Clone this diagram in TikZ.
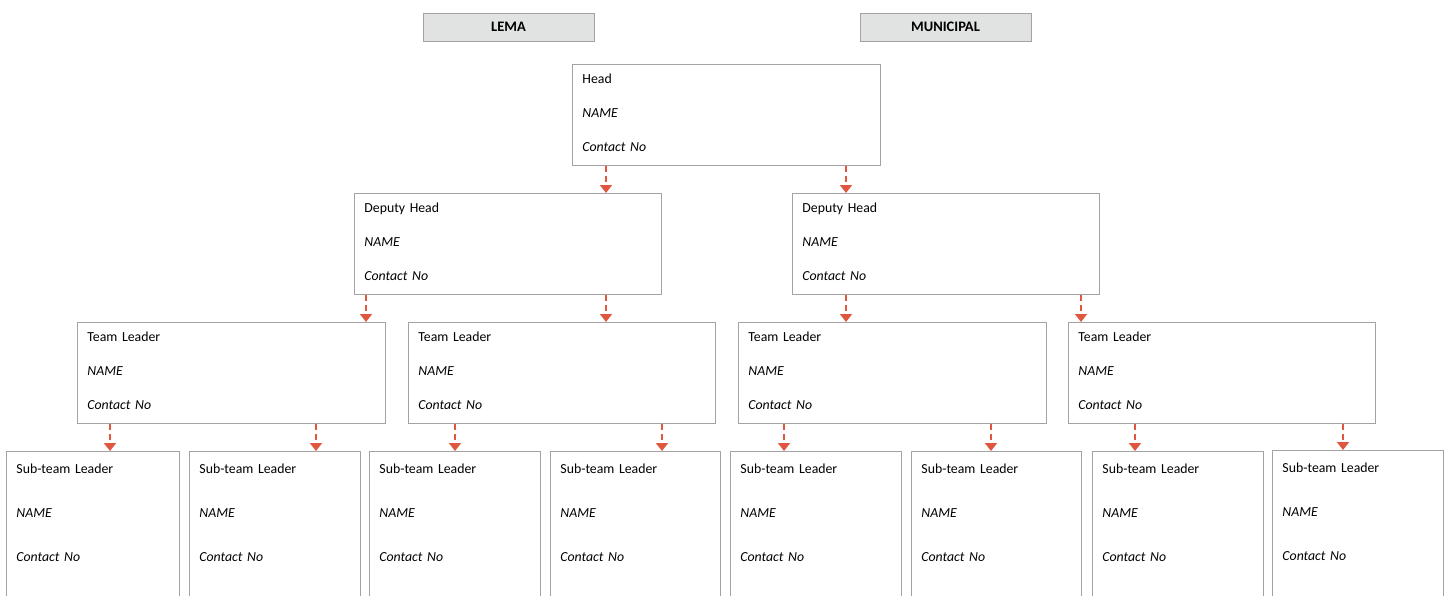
\documentclass[tikz,border=0pt]{standalone}
\usepackage{fontspec}
\setmainfont{Carlito}
\usetikzlibrary{arrows.meta}
\definecolor{linkred}{HTML}{E0573F}
\definecolor{boxgray}{HTML}{A3A3A3}
\definecolor{hdrfill}{HTML}{E1E2E2}
\tikzset{
  card/.style={draw=boxgray, line width=0.9pt, anchor=north west, align=left,
    text width=#1-20pt, inner xsep=10pt, inner ysep=0pt,
    font=\fontsize{13.8}{34}\selectfont, text height=19pt, text depth=82pt},
  subcard/.style={card=#1, font=\fontsize{13.8}{44}\selectfont,
    text height=22pt, text depth=150pt},
  hdr/.style={draw=boxgray, line width=0.9pt, fill=hdrfill, minimum width=171pt,
    minimum height=28pt, inner sep=0pt, font=\fontsize{14.5}{16}\selectfont\bfseries},
  link/.style={draw=linkred, line width=1.8pt, dash pattern=on 6pt off 4pt,
    -{Triangle[width=12pt,length=8pt]}}
}
\begin{document}
\begin{tikzpicture}[x=1pt,y=-1pt]
  \useasboundingbox (0,0) rectangle (1450,595);
  \clip (0,0) rectangle (1450,595);
  % headers
  \node[hdr] (lema) at (508.5,27) {LEMA};
  \node[hdr] (muni) at (945.5,27) {MUNICIPAL};
  % head
  \node[card=308pt] (head) at (572,64) {Head\\\textit{NAME}\\\textit{Contact No}};
  % deputies
  \node[card=307pt] (depL) at (354,193) {Deputy Head\\\textit{NAME}\\\textit{Contact No}};
  \node[card=307pt] (depR) at (792,193) {Deputy Head\\\textit{NAME}\\\textit{Contact No}};
  % team leaders
  \node[card=308pt] (tl1) at (77,322) {Team Leader\\\textit{NAME}\\\textit{Contact No}};
  \node[card=307pt] (tl2) at (408,322) {Team Leader\\\textit{NAME}\\\textit{Contact No}};
  \node[card=308pt] (tl3) at (738,322) {Team Leader\\\textit{NAME}\\\textit{Contact No}};
  \node[card=307pt] (tl4) at (1068,322) {Team Leader\\\textit{NAME}\\\textit{Contact No}};
  % sub-team leaders
  \node[subcard=173pt] (st1) at (6,451) {Sub-team Leader\\\textit{NAME}\\\textit{Contact No}};
  \node[subcard=171pt] (st2) at (189,451) {Sub-team Leader\\\textit{NAME}\\\textit{Contact No}};
  \node[subcard=171pt] (st3) at (369,451) {Sub-team Leader\\\textit{NAME}\\\textit{Contact No}};
  \node[subcard=170pt] (st4) at (550,451) {Sub-team Leader\\\textit{NAME}\\\textit{Contact No}};
  \node[subcard=171pt] (st5) at (730,451) {Sub-team Leader\\\textit{NAME}\\\textit{Contact No}};
  \node[subcard=170pt] (st6) at (911,451) {Sub-team Leader\\\textit{NAME}\\\textit{Contact No}};
  \node[subcard=171pt] (st7) at (1092,451) {Sub-team Leader\\\textit{NAME}\\\textit{Contact No}};
  \node[subcard=171pt] (st8) at (1272,450) {Sub-team Leader\\\textit{NAME}\\\textit{Contact No}};
  % links
  \draw[link] (head.south -| 606,0) -- (depL.north -| 606,0);
  \draw[link] (head.south -| 846,0) -- (depR.north -| 846,0);
  \draw[link] (depL.south -| 366,0) -- (tl1.north -| 366,0);
  \draw[link] (depL.south -| 606,0) -- (tl2.north -| 606,0);
  \draw[link] (depR.south -| 846,0) -- (tl3.north -| 846,0);
  \draw[link] (depR.south -| 1081,0) -- (tl4.north -| 1081,0);
  \draw[link] (tl1.south -| 110,0) -- (st1.north -| 110,0);
  \draw[link] (tl1.south -| 316,0) -- (st2.north -| 316,0);
  \draw[link] (tl2.south -| 455,0) -- (st3.north -| 455,0);
  \draw[link] (tl2.south -| 662,0) -- (st4.north -| 662,0);
  \draw[link] (tl3.south -| 784,0) -- (st5.north -| 784,0);
  \draw[link] (tl3.south -| 991,0) -- (st6.north -| 991,0);
  \draw[link] (tl4.south -| 1135,0) -- (st7.north -| 1135,0);
  \draw[link] (tl4.south -| 1343,0) -- (st8.north -| 1343,0);
\end{tikzpicture}
\end{document}
